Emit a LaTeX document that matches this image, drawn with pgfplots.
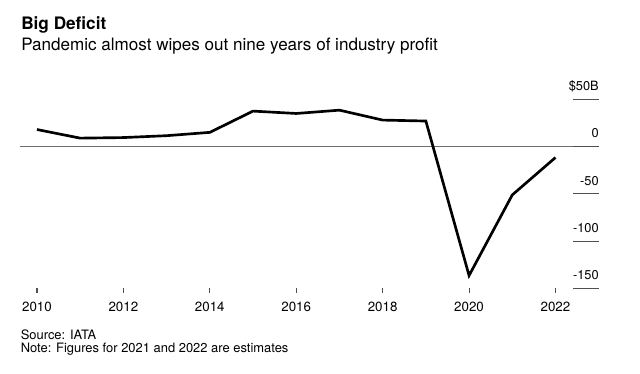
\documentclass[border=0pt]{standalone}
\usepackage{pgfplots}
\pgfplotsset{compat=1.18}
\usepackage{fontspec}
\setmainfont{TeX Gyre Heros}
\definecolor{zerogray}{RGB}{110,110,110}
\definecolor{tickgray}{RGB}{80,80,80}
\begin{document}
\begin{tikzpicture}[x=0.75pt,y=0.75pt]
\useasboundingbox (0,0) rectangle (640,374);
% titles
\node[anchor=base west, inner sep=0pt, font=\fontsize{12.9pt}{14pt}\selectfont\bfseries] at (21,{374-29.5}) {Big Deficit};
\node[anchor=base west, inner sep=0pt, font=\fontsize{12.8pt}{14pt}\selectfont] at (21,{374-50.5}) {Pandemic almost wipes out nine years of industry profit};
% footer
\node[anchor=base west, inner sep=0pt, font=\fontsize{9.7pt}{11pt}\selectfont] at (20.5,{374-339.3}) {Source: IATA};
\node[anchor=base west, inner sep=0pt, font=\fontsize{9.7pt}{11pt}\selectfont] at (20.5,{374-352.8}) {Note: Figures for 2021 and 2022 are estimates};
\begin{axis}[
  at={(15pt,64.275pt)}, anchor=south west,
  width=434.25pt, height=141.75pt, scale only axis,
  xmin=2009.607, xmax=2023.007, ymin=-150, ymax=50,
  separate axis lines,
  axis y line*=right, axis x line*=bottom,
  every outer x axis line/.append style={draw=none},
  every outer y axis line/.append style={draw=none},
  clip=false,
  xtick={2010,2012,2014,2016,2018,2020,2022},
  xticklabels={2010,2012,2014,2016,2018,2020,2022},
  tick align=outside, major tick length=3.4pt,
  xtick style={draw=tickgray, line width=0.8pt},
  ytick style={draw=none},
  ytick={-150,-100,-50,0,50},
  yticklabels={-150,-100,-50,0,\$50B},
  yticklabel pos=right,
  xticklabel style={font=\fontsize{10pt}{12pt}\selectfont, anchor=base, inner sep=0pt, yshift=-14.2pt},
  yticklabel style={font=\fontsize{9.6pt}{11pt}\selectfont, anchor=base east, inner sep=0pt, yshift=6.5pt, xshift=-3.4pt},
  /pgf/number format/assume math mode=true,
]
\draw[zerogray, line width=0.8pt] (axis cs:2009.607,0) -- (axis cs:2023.007,0);
\foreach \v in {-150,-100,-50,0,50} {
  \edef\tmp{\noexpand\draw[tickgray, line width=0.8pt] (axis cs:2022.405,\v) -- (axis cs:2023.007,\v);}
  \tmp
}
\addplot[black, line width=2pt, mark=none] coordinates {
(2010,18) (2011,8.9) (2012,9.5) (2013,11.5) (2014,15) (2015,37.5) (2016,35)
(2017,38.5) (2018,28) (2019,27) (2020,-136.5) (2021,-51.2) (2022,-11.6)
};
\end{axis}
\end{tikzpicture}
\end{document}
